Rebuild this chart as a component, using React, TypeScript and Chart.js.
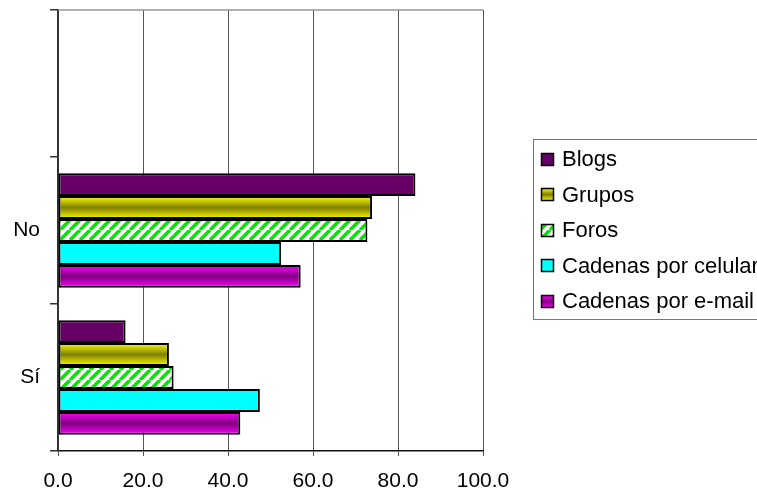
import React, { useEffect, useRef } from 'react';
import { Chart, registerables } from 'chart.js';

Chart.register(...registerables);

const categories = ['', 'No', 'Sí'];
const seriesNames = ['Blogs', 'Grupos', 'Foros', 'Cadenas por celular', 'Cadenas por e-mail'];
const blogs = [null, 84.1, 15.9];
const grupos = [null, 73.9, 26.1];
const foros = [null, 72.8, 27.2];
const celular = [null, 52.5, 47.5];
const email = [null, 57.1, 42.9];
const xMin = 0;
const xMax = 100;
const xStep = 20;

const W = 757;
const H = 497;
const GROUP = 0.78;
const FONT = "'Liberation Sans', Arial, sans-serif";

function gradientFill(edge: string, mid: string) {
  return (ctx: any) => {
    const chart = ctx.chart;
    const ys = chart.scales && chart.scales.y;
    if (!ys || ctx.type !== 'data') return mid;
    const p0 = ys.getPixelForValue(0);
    const p1 = ys.getPixelForValue(1);
    const center = ys.getPixelForValue(ctx.dataIndex);
    if (![p0, p1, center].every((v) => Number.isFinite(v))) return mid;
    const cat = Math.abs(p1 - p0);
    const group = cat * GROUP;
    const t = group / 5;
    if (!(t > 0)) return mid;
    const top = center - group / 2 + ctx.datasetIndex * t;
    const g = chart.ctx.createLinearGradient(0, top, 0, top + t);
    g.addColorStop(0, edge);
    g.addColorStop(0.5, mid);
    g.addColorStop(1, edge);
    return g;
  };
}

function makeHatch(ctx: CanvasRenderingContext2D) {
  const c = document.createElement('canvas');
  c.width = 10;
  c.height = 10;
  const g = c.getContext('2d')!;
  g.fillStyle = '#ffffff';
  g.fillRect(0, 0, 10, 10);
  g.strokeStyle = '#00e800';
  g.lineWidth = 3.6;
  g.beginPath();
  for (const o of [-10, 0, 10]) {
    g.moveTo(o, 10);
    g.lineTo(o + 10, 0);
  }
  g.stroke();
  return ctx.createPattern(c, 'repeat') as CanvasPattern;
}

export default function App() {
  const ref = useRef<HTMLCanvasElement | null>(null);

  useEffect(() => {
    const canvas = ref.current!;
    const ctx = canvas.getContext('2d')!;
    const hatch = makeHatch(ctx);

    const swatchFills = [
      () => '#660066',
      (y: number, h: number) => {
        const g = ctx.createLinearGradient(0, y, 0, y + h);
        g.addColorStop(0, '#ffff00');
        g.addColorStop(0.5, '#808000');
        g.addColorStop(1, '#ffff00');
        return g;
      },
      () => hatch,
      () => '#00ffff',
      (y: number, h: number) => {
        const g = ctx.createLinearGradient(0, y, 0, y + h);
        g.addColorStop(0, '#ff00ff');
        g.addColorStop(0.5, '#800080');
        g.addColorStop(1, '#ff00ff');
        return g;
      },
    ];

    const frameAndLegend = {
      id: 'frameAndLegend',
      afterDraw(chart: any) {
        const c = chart.ctx;
        const a = chart.chartArea;
        c.save();
        c.strokeStyle = '#999999';
        c.lineWidth = 1.5;
        c.beginPath();
        c.moveTo(a.left, a.top);
        c.lineTo(a.right, a.top);
        c.stroke();

        c.strokeStyle = '#777777';
        c.lineWidth = 1;
        c.strokeRect(533.5, 139.5, 300, 180);
        c.font = `22px ${FONT}`;
        c.textBaseline = 'middle';
        c.textAlign = 'left';
        chart.data.datasets.forEach((ds: any, i: number) => {
          const cy = 159 + i * 35.5;
          const sx = 541;
          const sy = Math.round(cy - 6.5);
          c.fillStyle = swatchFills[i](sy, 13);
          c.fillRect(sx, sy, 13, 13);
          c.strokeStyle = '#000';
          c.lineWidth = 1.5;
          c.strokeRect(sx + 0.5, sy + 0.5, 12, 12);
          c.fillStyle = '#000';
          c.fillText(ds.label, 562, cy + 1);
        });
        c.restore();
      },
    };

    const mk = (label: string, data: any[], bg: any) => ({
      label,
      data,
      backgroundColor: bg,
      borderColor: '#000000',
      borderWidth: 2,
      borderSkipped: false,
      categoryPercentage: GROUP,
      barPercentage: 1,
    });

    const chart = new Chart(canvas, {
      type: 'bar',
      data: {
        labels: categories,
        datasets: [
          mk(seriesNames[0], blogs, '#660066'),
          mk(seriesNames[1], grupos, gradientFill('#ffff00', '#808000')),
          mk(seriesNames[2], foros, hatch),
          mk(seriesNames[3], celular, '#00ffff'),
          mk(seriesNames[4], email, gradientFill('#ff00ff', '#800080')),
        ],
      },
      options: {
        indexAxis: 'y',
        responsive: false,
        animation: false,
        layout: { padding: { top: 10, right: 274, left: 0, bottom: 0 } },
        plugins: {
          legend: { display: false },
          tooltip: { enabled: false },
        },
        scales: {
          x: {
            min: xMin,
            max: xMax,
            afterFit: (s: any) => {
              s.height = 46;
              s.paddingLeft = 0;
              s.paddingRight = 0;
            },
            ticks: {
              stepSize: xStep,
              color: '#000',
              font: { family: FONT, size: 21 },
              padding: 13,
              maxRotation: 0,
              callback: (v: any) => Number(v).toFixed(1),
            },
            grid: {
              color: '#555555',
              lineWidth: 1,
              drawTicks: true,
              tickLength: 5,
            },
            border: { display: true, color: '#111111', width: 1.5 },
          },
          y: {
            type: 'category',
            offset: true,
            afterFit: (s: any) => {
              s.width = 58;
              s.paddingTop = 0;
              s.paddingBottom = 0;
            },
            ticks: {
              color: '#000',
              font: { family: FONT, size: 21 },
              padding: 10,
            },
            grid: {
              offset: true,
              drawOnChartArea: false,
              drawTicks: true,
              tickLength: 8,
              color: '#333333',
              lineWidth: 1.5,
            },
            border: { display: true, color: '#333333', width: 2 },
          },
        },
      },
      plugins: [frameAndLegend],
    } as any);

    return () => chart.destroy();
  }, []);

  return (
    <div style={{ position: 'absolute', left: 0, top: 0, width: W, height: H, overflow: 'hidden', background: '#fff' }}>
      <canvas ref={ref} width={W} height={H} style={{ display: 'block' }} />
    </div>
  );
}
